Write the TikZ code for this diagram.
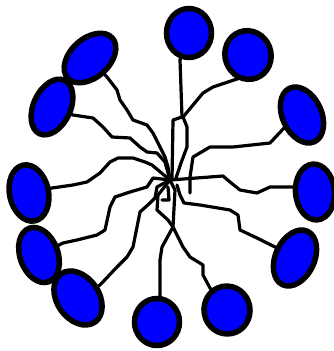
\documentclass[tikz,border=0pt]{standalone}
\usetikzlibrary{shapes.geometric,backgrounds}
\begin{document}
\begin{tikzpicture}[x=1pt,y=-1pt,
  blob/.style={ellipse,draw=black,line width=5.5pt,fill=blue,inner sep=0pt},
  wire/.style={draw=black,line width=3.2pt,line join=round,line cap=round}]
\useasboundingbox (0,0) rectangle (333,351);
\node[blob,minimum width=45pt,minimum height=49pt] (e1) at (189,33) {};
\node[blob,minimum width=46pt,minimum height=49pt,rotate=20] (e2) at (248,55) {};
\node[blob,minimum width=39pt,minimum height=59pt,rotate=25] (e3) at (302,115) {};
\node[blob,minimum width=39pt,minimum height=56pt,rotate=5] (e4) at (315,192) {};
\node[blob,minimum width=39pt,minimum height=59pt,rotate=-25] (e5) at (295,258) {};
\node[blob,minimum width=46pt,minimum height=48pt,rotate=10] (e6) at (227,310) {};
\node[blob,minimum width=45pt,minimum height=47pt] (e7) at (157,322) {};
\node[blob,minimum width=42pt,minimum height=59pt,rotate=35] (e8) at (78,298) {};
\node[blob,minimum width=38pt,minimum height=57pt,rotate=20] (e9) at (39,255) {};
\node[blob,minimum width=39pt,minimum height=57pt,rotate=12] (e10) at (29,193) {};
\node[blob,minimum width=37pt,minimum height=59pt,rotate=-25] (e11) at (52,107) {};
\node[blob,minimum width=39pt,minimum height=60pt,rotate=-48] (e12) at (90,58) {};
\coordinate (hub) at (170,180);
\begin{scope}[on background layer]
\draw[wire] (e1.center) -- (180,60) -- (182,117) -- (173,120) -- (172,180) -- (hub);
\draw[wire] (e2.center) -- (240,78) -- (213,87) -- (203,93) -- (183,117) -- (187,127) -- (187,147) -- (181,163) -- (176,178);
\draw[wire] (e3.center) -- (285,127) -- (270,143) -- (233,147) -- (210,147) -- (193,157) -- (190,177) -- (190,193);
\draw[wire] (e4.center) -- (297,187) -- (270,187) -- (257,193) -- (240,190) -- (230,182) -- (223,176) -- (hub);
\draw[wire] (e5.center) -- (277,248) -- (257,238) -- (240,230) -- (238,215) -- (230,210) -- (200,205) -- (184,203) -- (180,195) -- (177,185);
\draw[wire] (e6.center) -- (210,288) -- (203,275) -- (203,265) -- (190,257) -- (183,247) -- (173,227) -- (175,190) -- (hub);
\draw[wire] (e7.center) -- (160,300) -- (160,260) -- (162,247) -- (173,227) -- (168,220) -- (157,210) -- (158,195) -- (hub);
\draw[wire] (e8.center) -- (100,285) -- (117,267) -- (127,257) -- (133,247) -- (137,227) -- (140,212) -- (150,203) -- (155,198) -- (157,187) -- (hub);
\draw[wire] (e9.center) -- (63,243) -- (77,240) -- (97,235) -- (105,230) -- (110,207) -- (115,197) -- (130,192) -- (147,187) -- (153,178) -- (hub);
\draw[wire] (e10.center) -- (52,188) -- (73,185) -- (87,182) -- (100,173) -- (110,162) -- (118,158) -- (133,158) -- (145,162) -- (152,165) -- (hub);
\draw[wire] (e11.center) -- (73,115) -- (93,118) -- (103,127) -- (112,137) -- (130,138) -- (140,147) -- (147,152) -- (157,153) -- (165,162) -- (hub);
\draw[wire] (e12.center) -- (107,77) -- (117,90) -- (120,100) -- (127,110) -- (133,120) -- (147,125) -- (153,133) -- (158,143) -- (165,157) -- (168,167) -- (hub);
\draw[wire] (162,200) -- (169,200) -- (168,187);
\end{scope}
\end{tikzpicture}
\end{document}
